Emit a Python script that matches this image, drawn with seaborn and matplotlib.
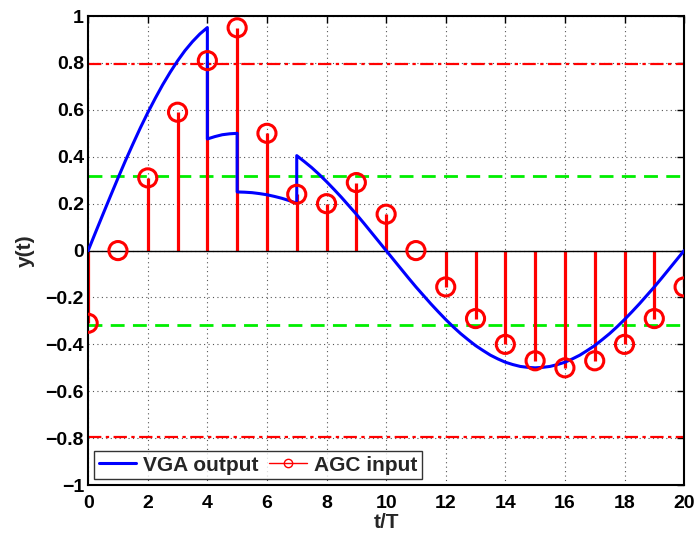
import matplotlib
matplotlib.use("Agg")
import matplotlib.pyplot as plt
import seaborn as sns
import pandas as pd
import numpy as np
from matplotlib.lines import Line2D
from matplotlib.legend_handler import HandlerLine2D

# VGA output (blue curve); repeated t marks a jump
seg1_t = [0, 0.25, 0.5, 0.75, 1, 1.25, 1.5, 1.75, 2, 2.25, 2.5, 2.75, 3, 3.25, 3.5, 3.75, 4]
seg1_y = [0, 0.0785, 0.156, 0.233, 0.309, 0.383, 0.454, 0.523, 0.588, 0.649, 0.707, 0.760, 0.809, 0.853, 0.891, 0.924, 0.951]
seg2_t = [4, 4.25, 4.5, 4.75, 5]
seg2_y = [0.476, 0.486, 0.494, 0.498, 0.500]
seg3_t = [5, 5.25, 5.5, 5.75, 6, 6.25, 6.5, 6.75, 7]
seg3_y = [0.250, 0.249, 0.247, 0.243, 0.238, 0.231, 0.223, 0.213, 0.202]
seg4_t = [7, 7.25, 7.5, 7.75, 8, 8.25, 8.5, 8.75, 9, 9.25, 9.5, 9.75, 10,
          10.25, 10.5, 10.75, 11, 11.25, 11.5, 11.75, 12, 12.25, 12.5, 12.75, 13,
          13.25, 13.5, 13.75, 14, 14.25, 14.5, 14.75, 15, 15.25, 15.5, 15.75, 16,
          16.25, 16.5, 16.75, 17, 17.25, 17.5, 17.75, 18, 18.25, 18.5, 18.75, 19,
          19.25, 19.5, 19.75, 20]
seg4_y = [0.405, 0.380, 0.354, 0.325, 0.294, 0.261, 0.227, 0.191, 0.155, 0.117, 0.078, 0.039, 0.0,
          -0.039, -0.078, -0.117, -0.155, -0.191, -0.227, -0.261, -0.294, -0.325, -0.354, -0.380, -0.405,
          -0.426, -0.446, -0.462, -0.476, -0.486, -0.494, -0.498, -0.500, -0.498, -0.494, -0.486, -0.476,
          -0.462, -0.446, -0.426, -0.405, -0.380, -0.354, -0.325, -0.294, -0.261, -0.227, -0.191, -0.155,
          -0.117, -0.078, -0.039, 0.0]

# AGC input (red stems)
agc_t = list(range(21))
agc_y = [-0.31, 0.0, 0.31, 0.59, 0.81, 0.95, 0.50, 0.24, 0.20, 0.29, 0.155,
         0.0, -0.155, -0.29, -0.40, -0.47, -0.50, -0.47, -0.40, -0.29, -0.155]

thr_outer = 0.795
thr_inner = 0.316

x_ticks = list(range(0, 21, 2))
y_ticks = [-1, -0.8, -0.6, -0.4, -0.2, 0, 0.2, 0.4, 0.6, 0.8, 1]
y_ticklabels = ["\u22121", "\u22120.8", "\u22120.6", "\u22120.4", "\u22120.2", "0", "0.2", "0.4", "0.6", "0.8", "1"]
legend_labels = ["VGA output", "AGC input"]

sns.set_theme(style="white")
plt.rcParams['font.family'] = ['Liberation Sans', 'DejaVu Sans']
plt.rcParams['font.weight'] = 'bold'

fig = plt.figure(figsize=(6.97, 5.36), dpi=100)
ax = fig.add_axes([0.1265, 0.095, 0.855, 0.875])

# grid
for xt in x_ticks:
    ax.axvline(xt, color="#555555", lw=0.8, ls=(0, (1, 3)), zorder=0)
for yt in y_ticks:
    ax.axhline(yt, color="#555555", lw=0.8, ls=(0, (1, 3)), zorder=0)

# thresholds
for v in (thr_outer, -thr_outer):
    ax.axhline(v, color="red", lw=1.6, ls=(0, (6, 2, 1.5, 2)), zorder=1)
for v in (thr_inner, -thr_inner):
    ax.axhline(v, color="#00ee00", lw=2.0, ls=(0, (5, 3)), zorder=1)

# stems
ax.vlines(agc_t, 0, agc_y, color="red", lw=2.3, zorder=2)
ax.axhline(0, color="black", lw=1.0, zorder=2.5)
df_s = pd.DataFrame({"t": agc_t, "y": agc_y})
sns.scatterplot(data=df_s, x="t", y="y", ax=ax, marker="o", s=170,
                facecolor="none", edgecolor="red", linewidth=2.2, zorder=4, legend=False)

# VGA line
vga_t = seg1_t + seg2_t + seg3_t + seg4_t
vga_y = seg1_y + seg2_y + seg3_y + seg4_y
df_v = pd.DataFrame({"t": vga_t, "y": vga_y})
sns.lineplot(data=df_v, x="t", y="y", ax=ax, color="blue", lw=2.2,
             sort=False, estimator=None, zorder=3)

ax.set_xlim(0, 20)
ax.set_ylim(-1, 1)
ax.set_xticks(x_ticks)
ax.set_yticks(y_ticks)
ax.set_yticklabels(y_ticklabels)
ax.tick_params(direction="in", length=5, width=1, top=True, right=True,
               labelsize=14, pad=3, colors="black")
ax.tick_params(axis="x", pad=7)
for lab in ax.get_xticklabels() + ax.get_yticklabels():
    lab.set_fontweight("bold")
for sp in ax.spines.values():
    sp.set_color("black")
    sp.set_linewidth(1.5)

ax.set_xlabel("t/T", fontsize=15, fontweight="bold", labelpad=1)
ax.set_ylabel("y(t)", fontsize=15, fontweight="bold", labelpad=8)


class EndMarker(HandlerLine2D):
    """Legend handler that puts the marker at the right end of the line."""
    def get_xdata(self, legend, xdescent, ydescent, width, height, fontsize):
        xdata, _ = super().get_xdata(legend, xdescent, ydescent, width, height, fontsize)
        return xdata, np.array([xdata[-1]])


handles = [Line2D([], [], color="blue", lw=2.2),
           Line2D([], [], color="red", lw=1, marker="o", markersize=6,
                  markerfacecolor="none", markeredgecolor="red")]
leg = ax.legend(handles, legend_labels, loc="lower left",
                ncol=2, prop={"weight": "bold", "size": 15},
                frameon=True, fancybox=False, edgecolor="black",
                borderaxespad=0.3, columnspacing=0.5, handlelength=1.8,
                handletextpad=0.35, borderpad=0.2,
                handler_map={handles[1]: EndMarker(numpoints=1)})
leg.get_frame().set_linewidth(1.0)

fig.savefig("out.png", dpi=100)
